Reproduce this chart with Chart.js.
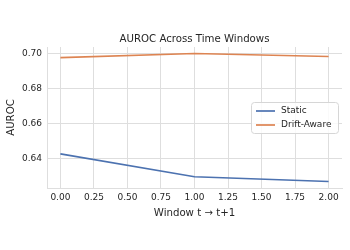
<!DOCTYPE html>
<html>
<head>
<meta charset="utf-8">
<script src="https://cdn.jsdelivr.net/npm/chart.js@4"></script>
<style>
  html, body { margin: 0; padding: 0; background: #fff; }
  #wrap { width: 350px; height: 250px; }
</style>
</head>
<body>
<div id="wrap"><canvas id="chart" width="350" height="250"></canvas></div>
<script>
// --- Data ---
const windows = [0, 1, 2];
const staticAuroc = [0.6428, 0.6298, 0.6271];
const driftAuroc = [0.6977, 0.7000, 0.6983];
const xTicks = [0, 0.25, 0.5, 0.75, 1, 1.25, 1.5, 1.75, 2];
const yTicks = [0.64, 0.66, 0.68, 0.70];
const seriesNames = ["Static", "Drift-Aware"];
const seriesColors = ["#4c72b0", "#dd8452"];
const chartTitle = "AUROC Across Time Windows";

const FONT = "'DejaVu Sans', sans-serif";
const TEXT = "#262626";
const GRID = "#dedede";

function toPoints(values) {
    return windows.map((w, i) => ({ x: w, y: values[i] }));
}

// title centred over the plot area and legend inside it (matplotlib style)
const overlay = {
    id: "overlay",
    afterDraw(chart) {
        const ctx = chart.ctx;
        const area = chart.chartArea;
        ctx.save();

        ctx.fillStyle = TEXT;
        ctx.font = "10.2px " + FONT;
        ctx.textAlign = "center";
        ctx.textBaseline = "middle";
        ctx.fillText(chartTitle, (area.left + area.right) / 2, area.top - 8);

        const x = 251, y = 102, w = 87, h = 31;
        ctx.fillStyle = "rgba(255,255,255,0.85)";
        ctx.strokeStyle = "#d6d6d6";
        ctx.lineWidth = 1;
        ctx.beginPath();
        ctx.roundRect(x + 0.5, y + 0.5, w, h, 3);
        ctx.fill();
        ctx.stroke();
        ctx.font = "9px " + FONT;
        ctx.textAlign = "left";
        seriesNames.forEach((name, i) => {
            const ry = y + 9 + i * 14;
            ctx.strokeStyle = seriesColors[i];
            ctx.lineWidth = 1.7;
            ctx.beginPath();
            ctx.moveTo(x + 5, ry);
            ctx.lineTo(x + 24, ry);
            ctx.stroke();
            ctx.fillStyle = TEXT;
            ctx.fillText(name, x + 30, ry);
        });
        ctx.restore();
    }
};

new Chart(document.getElementById("chart"), {
    type: "line",
    data: {
        datasets: [
            {
                label: seriesNames[0],
                data: toPoints(staticAuroc),
                borderColor: seriesColors[0],
                borderWidth: 1.7,
                pointRadius: 0,
                tension: 0
            },
            {
                label: seriesNames[1],
                data: toPoints(driftAuroc),
                borderColor: seriesColors[1],
                borderWidth: 1.7,
                pointRadius: 0,
                tension: 0
            }
        ]
    },
    options: {
        responsive: false,
        animation: false,
        layout: { padding: { left: 3, right: 8, top: 47, bottom: 31 } },
        plugins: {
            legend: { display: false },
            tooltip: { enabled: false }
        },
        scales: {
            x: {
                type: "linear",
                min: -0.1,
                max: 2.1,
                afterBuildTicks: s => { s.ticks = xTicks.map(v => ({ value: v })); },
                afterFit: s => { s.height = 31; },
                ticks: {
                    color: TEXT,
                    font: { family: FONT, size: 9 },
                    padding: 4,
                    maxRotation: 0,
                    callback: v => Number(v).toFixed(2)
                },
                grid: { color: GRID, lineWidth: 1, drawTicks: false },
                border: { color: GRID },
                title: {
                    display: true,
                    text: "Window t \u2192 t+1",
                    color: TEXT,
                    font: { family: FONT, size: 10.2 },
                    padding: { top: 0, bottom: 0 }
                }
            },
            y: {
                min: 0.6234,
                max: 0.7037,
                afterBuildTicks: s => { s.ticks = yTicks.map(v => ({ value: v })); },
                afterFit: s => { s.width = 44; },
                ticks: {
                    color: TEXT,
                    font: { family: FONT, size: 9 },
                    padding: 5,
                    callback: v => Number(v).toFixed(2)
                },
                grid: { color: GRID, lineWidth: 1, drawTicks: false },
                border: { color: GRID },
                title: {
                    display: true,
                    text: "AUROC",
                    color: TEXT,
                    font: { family: FONT, size: 10.2 },
                    padding: { top: 2, bottom: 0 }
                }
            }
        }
    },
    plugins: [overlay]
});
</script>
</body>
</html>
